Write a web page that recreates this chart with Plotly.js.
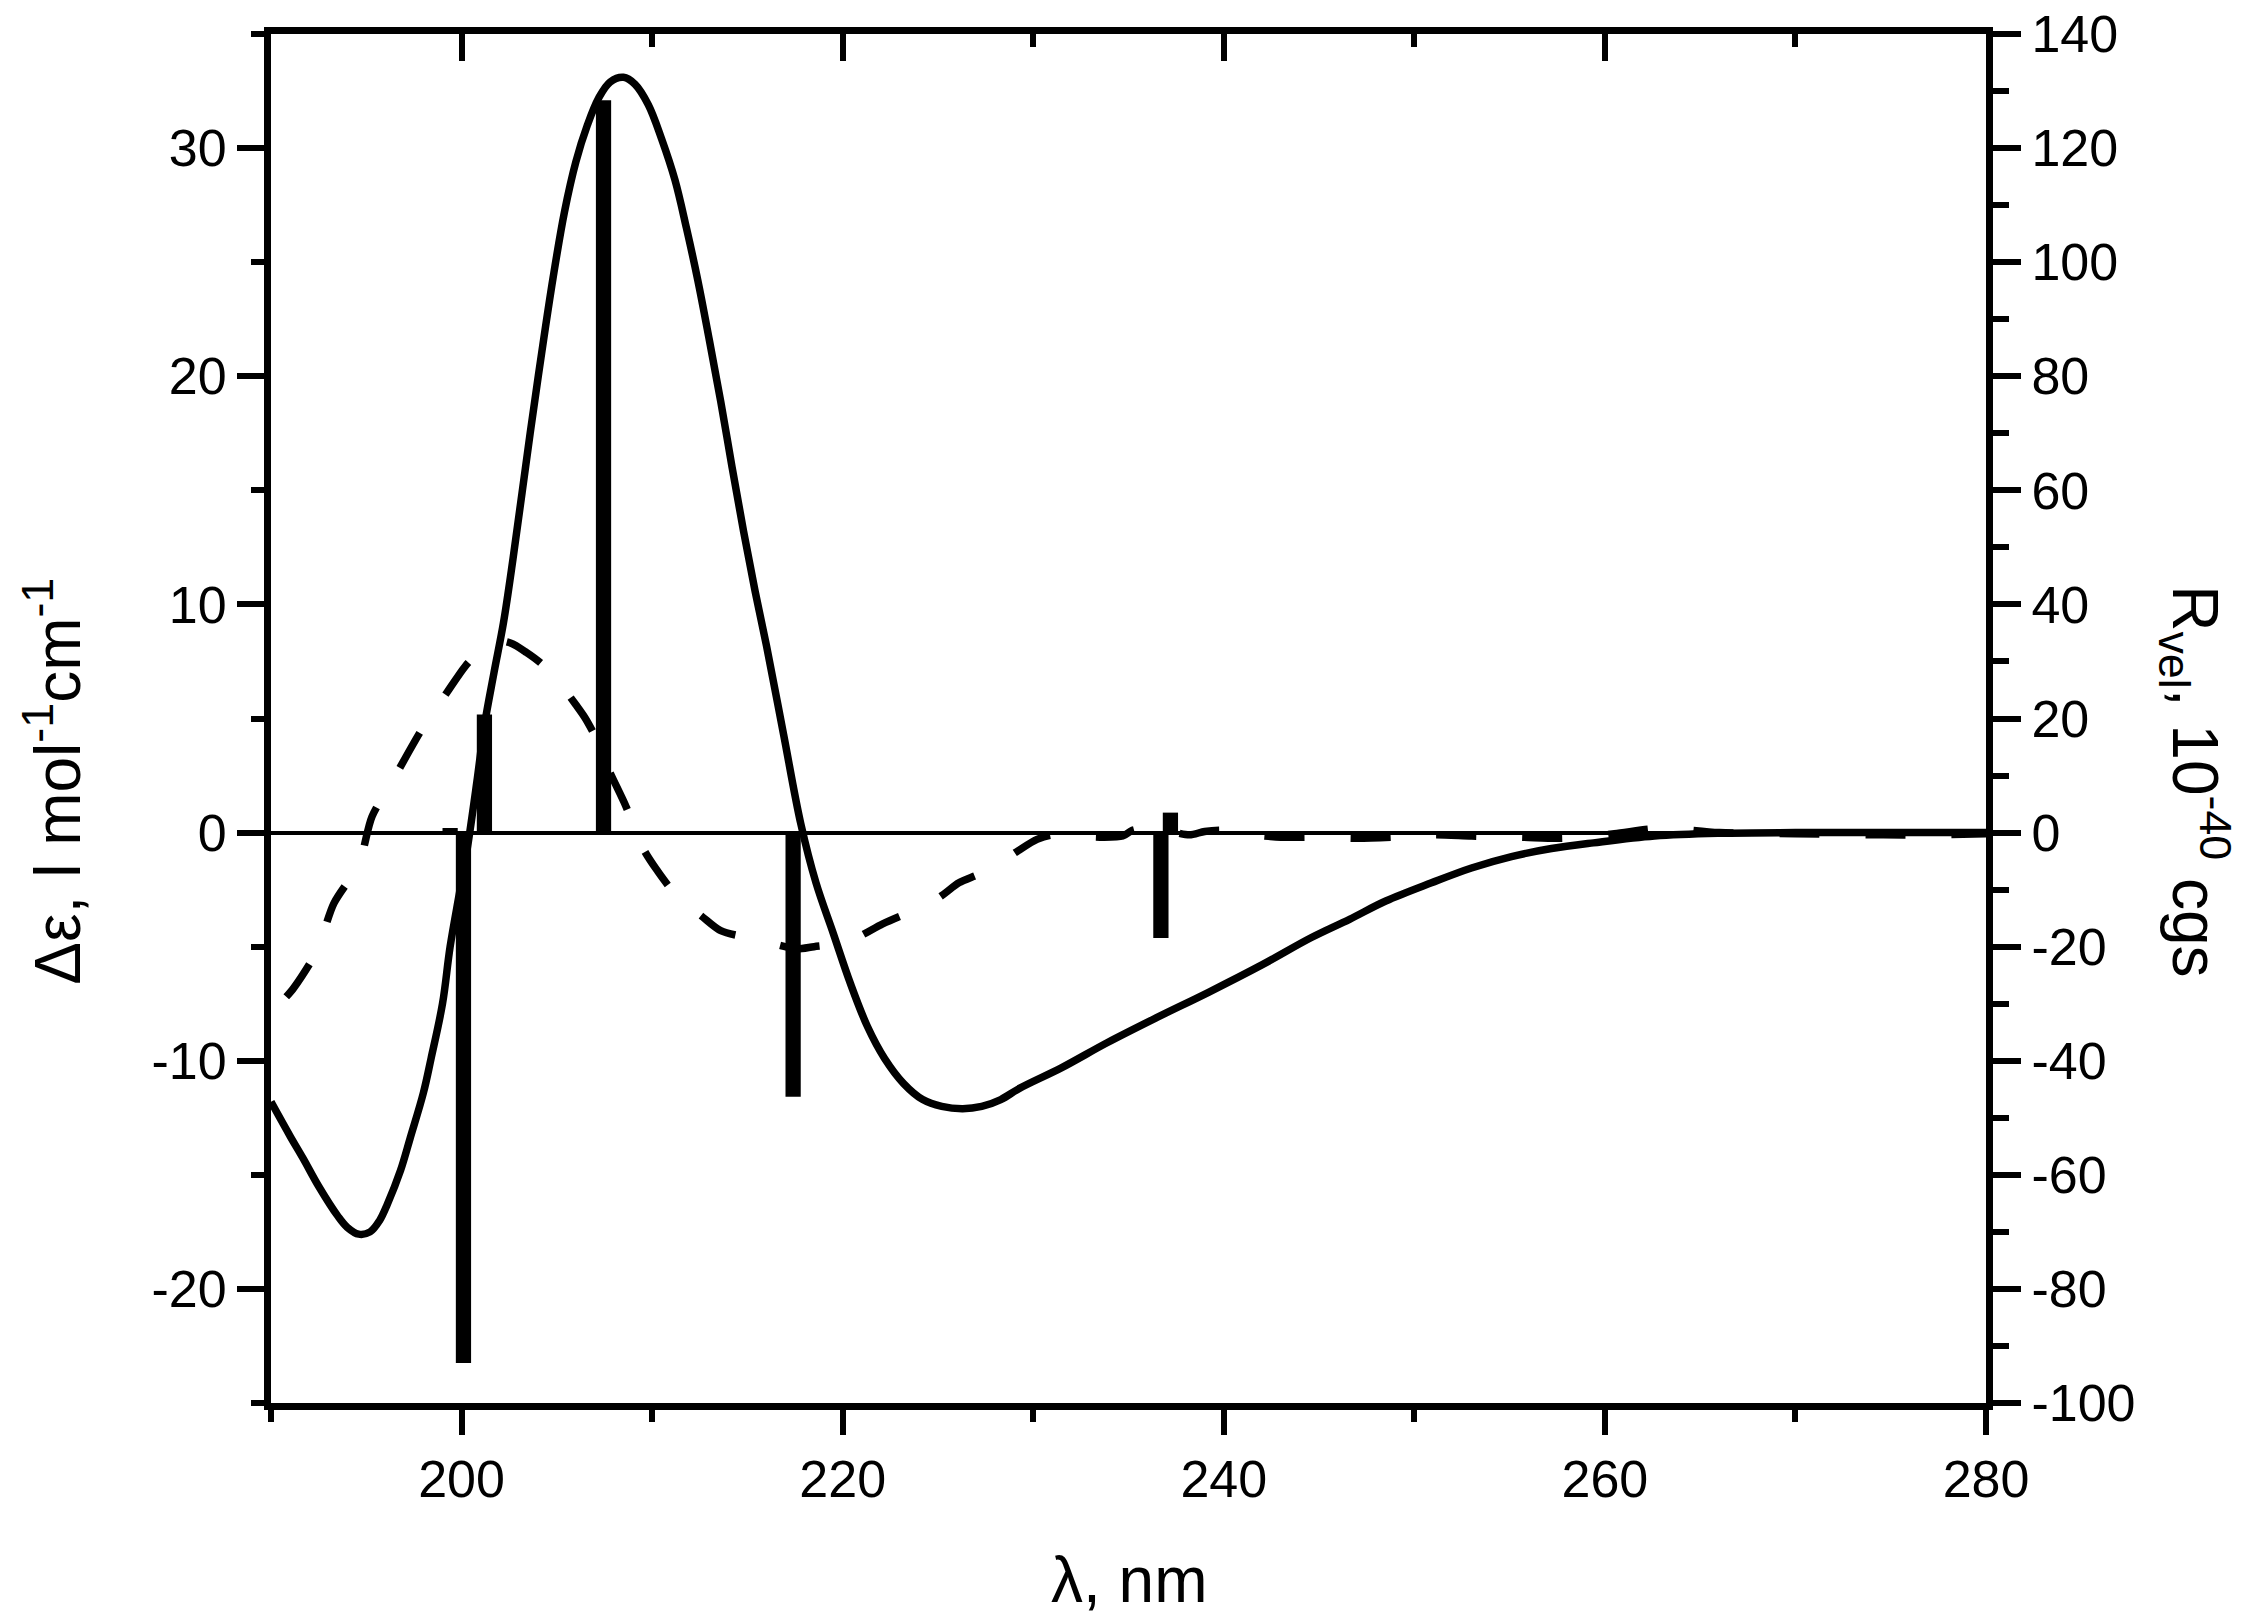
<!DOCTYPE html>
<html>
<head>
<meta charset="utf-8">
<script src="https://cdn.plot.ly/plotly-3.0.1.min.js"></script>
<style>html,body{margin:0;padding:0;background:#fff;}#chart{width:2258px;height:1618px;}</style>
</head>
<body>
<div id="chart"></div>
<script>
// Calculated CD spectrum (solid), Δε
const solidX = [190.0,191.0,191.7,192.5,193.5,194.0,194.6,195.2,195.7,196.1,196.8,197.3,198.0,198.4,199.0,199.4,199.9,200.3,200.8,201.2,201.7,202.2,202.7,203.6,204.2,204.8,205.4,206.0,206.6,207.2,207.8,208.5,209.1,209.8,210.5,211.2,211.8,212.4,213.0,213.6,214.2,214.8,215.4,216.0,216.9,217.8,218.6,219.5,220.4,221.3,222.2,223.2,224.2,225.2,226.3,227.3,228.3,229.3,231.5,233.9,236.5,239.2,242.0,244.6,246.6,248.5,250.9,253.0,255.1,257.2,259.4,262.6,266.0,270.0,275.0,280.0];
const solidY = [-11.8,-13.3,-14.3,-15.5,-16.8,-17.3,-17.6,-17.5,-17.0,-16.3,-14.8,-13.4,-11.4,-9.9,-7.5,-5.0,-2.6,-0.7,2.2,4.7,7.0,9.2,12.0,17.5,21.0,24.3,27.2,29.4,31.0,32.2,32.9,33.1,32.8,31.9,30.4,28.6,26.5,24.2,21.6,18.9,16.0,13.2,10.6,8.2,4.3,0.4,-2.2,-4.4,-6.6,-8.5,-9.9,-11.0,-11.7,-12.0,-12.1,-12.0,-11.7,-11.2,-10.3,-9.2,-8.1,-7.0,-5.8,-4.6,-3.8,-3.0,-2.2,-1.55,-1.05,-0.7,-0.45,-0.15,-0.03,0,0,0];

// Second spectrum (dashed), Δε
const dashedX = [190.8,191.2,192.4,193.3,194.6,195.3,196.4,197.9,199.2,200.2,200.9,201.8,202.6,203.4,204.2,205.1,206.0,206.5,207.2,207.7,208.6,209.6,210.3,211.1,211.6,212.5,213.6,215.0,216.5,217.6,218.5,219.5,220.5,222.1,223.2,224.4,225.3,226.1,227.2,228.3,229.2,230.2,231.0,232.4,233.5,234.7,235.2,236.0,237.0,238.2,239.0,240.0,241.5,243.0,245.0,247.0,249.0,251.0,253.0,255.6,257.5,258.8,260.5,262.3,263.2,264.0,266.0,270.0,274.6,277.0,280.0];
const dashedY = [-7.2,-6.8,-5.2,-3.1,-1.4,0.7,2.3,4.5,6.1,7.3,7.9,8.4,8.3,7.9,7.4,6.6,5.6,5.0,3.9,2.8,1.2,-0.8,-1.7,-2.6,-3.1,-3.6,-4.3,-4.6,-4.9,-5.1,-5.0,-4.9,-4.7,-4.0,-3.6,-3.2,-2.7,-2.2,-1.8,-1.3,-0.8,-0.3,-0.1,-0.15,-0.2,-0.15,0.1,0.2,0.1,-0.1,0.05,0.1,-0.1,-0.2,-0.2,-0.25,-0.2,-0.1,-0.15,-0.2,-0.25,-0.2,-0.05,0.15,0.2,0.15,0.0,-0.05,-0.1,-0.1,-0.05];

// Rotatory strengths (sticks), R_vel in 10^-40 cgs
const stickX = [199.4,200.1,201.2,207.45,217.4,236.7,237.2];
const stickR = [0.8,-93,20.7,128.4,-46.3,-18.5,3.5];

// Tick labels
const xTickVals = [200,220,240,260,280];
const xTickText = ['200','220','240','260','280'];
const yTickVals = [-20,-10,0,10,20,30];
const yTickText = ['-20','-10','0','10','20','30'];
const y2TickVals = [-100,-80,-60,-40,-20,0,20,40,60,80,100,120,140];
const y2TickText = ['-100','-80','-60','-40','-20','0','20','40','60','80','100','120','140'];

const FONT = 'Arial, "Liberation Sans", sans-serif';

const traces = [
  // invisible copy so that the top (mirror) axis is drawn
  {x: solidX, y: solidY, type:'scatter', mode:'lines', xaxis:'x2', yaxis:'y',
   line:{color:'rgba(0,0,0,0)', width:0}, hoverinfo:'skip', showlegend:false},
  {x: solidX, y: solidY, type:'scatter', mode:'lines', xaxis:'x', yaxis:'y',
   line:{color:'#000', width:7.5, shape:'spline', smoothing:1}, hoverinfo:'skip'},
  {x: dashedX, y: dashedY, type:'scatter', mode:'lines', xaxis:'x', yaxis:'y',
   line:{color:'#000', width:7.5, dash:'40px,46px', shape:'spline', smoothing:0.8}, hoverinfo:'skip'},
  {x: stickX, y: stickR, type:'bar', xaxis:'x', yaxis:'y2', width:0.8,
   marker:{color:'#000', line:{width:0}}, hoverinfo:'skip'}
];

const axBase = {showline:true, linecolor:'#000', linewidth:7, showgrid:false, zeroline:false,
  tickcolor:'#000', tickfont:{family:FONT, size:52, color:'#000'}};

const layout = {
  width:2258, height:1618,
  margin:{l:271, r:272, t:34, b:215, pad:0},
  paper_bgcolor:'#fff', plot_bgcolor:'#fff',
  showlegend:false,
  font:{family:FONT, color:'#000'},
  xaxis: Object.assign({}, axBase, {
    range:[190,280], tickmode:'array', tickvals:xTickVals, ticktext:xTickText,
    ticks:'outside', ticklen:25, tickwidth:6,
    minor:{tickmode:'linear', tick0:190, dtick:10, ticks:'outside', ticklen:12, tickwidth:6, tickcolor:'#000'}
  }),
  xaxis2: Object.assign({}, axBase, {
    range:[190,280], overlaying:'x', side:'top', anchor:'y',
    tickmode:'array', tickvals:xTickVals, ticktext:xTickText, ticks:'inside', ticklen:27, tickwidth:6, showticklabels:false,
    minor:{tickmode:'linear', tick0:190, dtick:10, ticks:'inside', ticklen:13, tickwidth:6, tickcolor:'#000'}
  }),
  yaxis: Object.assign({}, axBase, {
    range:[-25,35], tickmode:'array', tickvals:yTickVals, ticktext:yTickText,
    ticks:'outside', ticklen:27, tickwidth:6,
    zeroline:true, zerolinecolor:'#000', zerolinewidth:4,
    minor:{tickmode:'linear', tick0:0, dtick:5, ticks:'outside', ticklen:13, tickwidth:6, tickcolor:'#000'}
  }),
  yaxis2: Object.assign({}, axBase, {
    range:[-100,140], overlaying:'y', side:'right', anchor:'x',
    tickmode:'array', tickvals:y2TickVals, ticktext:y2TickText,
    ticks:'outside', ticklen:28, tickwidth:6,
    minor:{tickmode:'linear', tick0:0, dtick:10, ticks:'outside', ticklen:16, tickwidth:6, tickcolor:'#000'}
  }),
  annotations:[
    {text:'λ, nm', xref:'paper', yref:'paper', x:0.5, y:-0.129, xanchor:'center', yanchor:'middle',
     showarrow:false, font:{family:FONT, size:64, color:'#000'}},
    {text:'Δε, l mol<sup>-1</sup>cm<sup>-1</sup>', xref:'paper', yref:'paper', x:-0.127, y:0.454,
     xanchor:'center', yanchor:'middle', textangle:-90, showarrow:false,
     font:{family:FONT, size:64, color:'#000'}},
    {text:'R<sub>vel</sub>, 10<sup>-40</sup> cgs', xref:'paper', yref:'paper', x:1.122, y:0.454,
     xanchor:'center', yanchor:'middle', textangle:90, showarrow:false,
     font:{family:FONT, size:64, color:'#000'}}
  ]
};

Plotly.newPlot('chart', traces, layout, {staticPlot:true, displayModeBar:false});
</script>
</body>
</html>
